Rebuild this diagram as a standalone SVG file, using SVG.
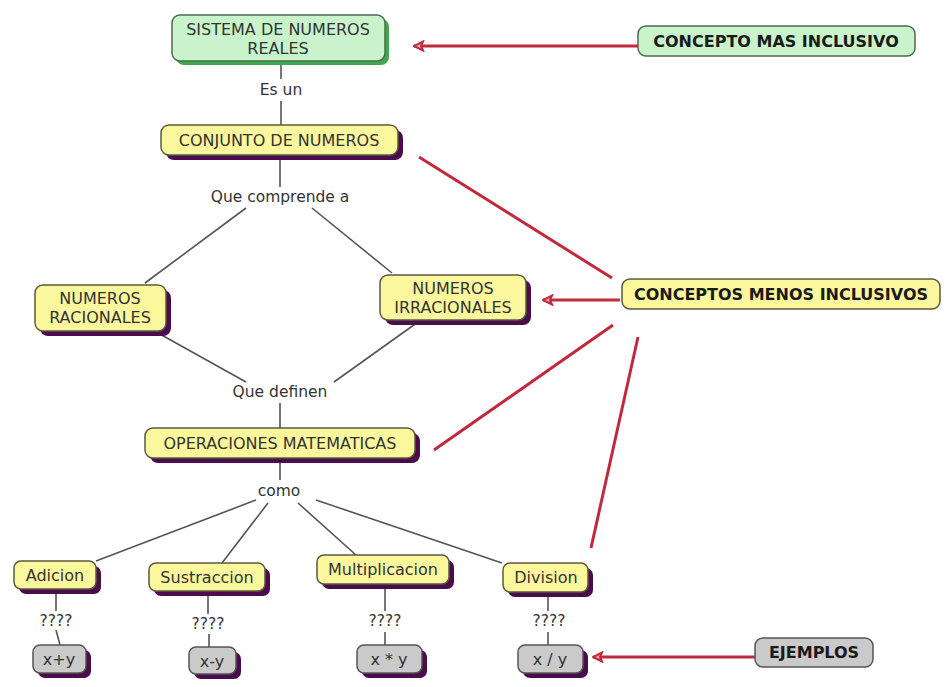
<svg xmlns="http://www.w3.org/2000/svg" width="945" height="687" viewBox="0 0 945 687">
<defs>
<style>
.t{font-family:"DejaVu Sans","Verdana",sans-serif;font-size:16px;fill:#333;text-anchor:middle;dominant-baseline:central}
.b{font-family:"DejaVu Sans","Verdana",sans-serif;font-size:16px;font-weight:bold;fill:#1a1a1a;text-anchor:middle;dominant-baseline:central}
.lbl{font-family:"DejaVu Sans","Verdana",sans-serif;font-size:15.5px;fill:#333;text-anchor:middle;dominant-baseline:central}
.y{fill:#fbf79c;stroke:#5b5a3c;stroke-width:1.5}
.g{fill:#c8f3cb;stroke:#4f6a52;stroke-width:1.5}
.gr{fill:#cacaca;stroke:#555;stroke-width:1.5}
.sh{fill:#4a0c4c}
.shg{fill:#3fa84a}
.c{stroke:#555;stroke-width:1.6;fill:none}
.r{stroke:#c02a3c;stroke-width:3;fill:none}
</style>
<marker id="ah" markerUnits="userSpaceOnUse" markerWidth="14" markerHeight="12" viewBox="0 0 14 12" refX="13" refY="6" orient="auto">
<path d="M13,6 L4,1.5 L6,6 L4,10.5 Z" fill="#f2b0b6" stroke="#c02a3c" stroke-width="2"/>
</marker>
</defs>

<g id="connectors">
<path class="c" d="M281,62 V79 M281,101 V125"/>
<path class="c" d="M280,157 V187"/>
<path class="c" d="M246,208 L145,283 M312,208 L392,273"/>
<path class="c" d="M158,333 L246,382 M418,322 L334,382"/>
<path class="c" d="M280,403 V428"/>
<path class="c" d="M280,462 V480"/>
<path class="c" d="M256,500 L96,561 M268,503 L222,563 M298,503 L356,555 M316,500 L502,563"/>
<path class="c" d="M56,591 V611 M56,630 L60,645"/>
<path class="c" d="M208,593 V614 M209,634 V647"/>
<path class="c" d="M385,586 V611 M385,632 V645"/>
<path class="c" d="M548,594 V611 M548,632 V645"/>
<path class="r" d="M638,46 H414" marker-end="url(#ah)"/>
<path class="r" d="M620,300 H543" marker-end="url(#ah)"/>
<path class="r" d="M755,657 H593" marker-end="url(#ah)"/>
<path class="r" d="M419,157 L612,278 M613,325 L434,450 M638,337 L591,548"/>
</g>

<g id="labels">
<text class="lbl" x="281" y="90">Es un</text>
<text class="lbl" x="280" y="197">Que comprende a</text>
<text class="lbl" x="280" y="392">Que definen</text>
<text class="lbl" x="279" y="491">como</text>
<text class="lbl" x="56" y="621">????</text>
<text class="lbl" x="208" y="624">????</text>
<text class="lbl" x="385" y="621">????</text>
<text class="lbl" x="549" y="621">????</text>
</g>

<g id="sistema">
<rect class="shg" x="176" y="19" width="213" height="46" rx="8"/>
<rect class="g" x="172" y="15" width="213" height="46" rx="8"/>
<text class="t" x="278" y="29">SISTEMA DE NUMEROS</text>
<text class="t" x="278" y="48">REALES</text>
</g>
<g id="conjunto">
<rect class="sh" x="166" y="130" width="237" height="30" rx="8"/>
<rect class="y" x="161" y="125" width="237" height="30" rx="8"/>
<text class="t" x="279" y="140">CONJUNTO DE NUMEROS</text>
</g>
<g id="racionales">
<rect class="sh" x="40" y="290" width="131" height="46" rx="8"/>
<rect class="y" x="35" y="285" width="131" height="46" rx="8"/>
<text class="t" x="100" y="298">NUMEROS</text>
<text class="t" x="100" y="317">RACIONALES</text>
</g>
<g id="irracionales">
<rect class="sh" x="385" y="280" width="146" height="45" rx="8"/>
<rect class="y" x="380" y="275" width="146" height="45" rx="8"/>
<text class="t" x="453" y="288">NUMEROS</text>
<text class="t" x="453" y="307">IRRACIONALES</text>
</g>
<g id="operaciones">
<rect class="sh" x="150" y="433" width="270" height="30" rx="8"/>
<rect class="y" x="145" y="428" width="270" height="30" rx="8"/>
<text class="t" x="280" y="443">OPERACIONES MATEMATICAS</text>
</g>
<g id="adicion">
<rect class="sh" x="19" y="566" width="82" height="28" rx="7"/>
<rect class="y" x="14" y="561" width="82" height="28" rx="7"/>
<text class="t" x="55" y="575">Adicion</text>
</g>
<g id="sustraccion">
<rect class="sh" x="154" y="568" width="116" height="28" rx="7"/>
<rect class="y" x="149" y="563" width="116" height="28" rx="7"/>
<text class="t" x="207" y="577">Sustraccion</text>
</g>
<g id="multiplicacion">
<rect class="sh" x="322" y="560" width="132" height="29" rx="7"/>
<rect class="y" x="317" y="555" width="132" height="29" rx="7"/>
<text class="t" x="383" y="569">Multiplicacion</text>
</g>
<g id="division">
<rect class="sh" x="508" y="568" width="85" height="29" rx="7"/>
<rect class="y" x="503" y="563" width="85" height="29" rx="7"/>
<text class="t" x="546" y="577">Division</text>
</g>
<g id="ej-suma">
<rect class="sh" x="38" y="650" width="53" height="28" rx="7"/>
<rect class="gr" x="33" y="645" width="53" height="28" rx="7"/>
<text class="t" x="59" y="659">x+y</text>
</g>
<g id="ej-resta">
<rect class="sh" x="194" y="652" width="47" height="27" rx="7"/>
<rect class="gr" x="189" y="647" width="47" height="27" rx="7"/>
<text class="t" x="212" y="661">x-y</text>
</g>
<g id="ej-mult">
<rect class="sh" x="362" y="650" width="65" height="28" rx="7"/>
<rect class="gr" x="357" y="645" width="65" height="28" rx="7"/>
<text class="t" x="389" y="659">x * y</text>
</g>
<g id="ej-div">
<rect class="sh" x="523" y="650" width="65" height="28" rx="7"/>
<rect class="gr" x="518" y="645" width="65" height="28" rx="7"/>
<text class="t" x="550" y="659">x / y</text>
</g>
<g id="concepto-mas">
<rect class="g" x="638" y="26" width="277" height="30" rx="8"/>
<text class="b" x="776" y="41">CONCEPTO MAS INCLUSIVO</text>
</g>
<g id="conceptos-menos">
<rect class="y" x="622" y="279" width="318" height="30" rx="8"/>
<text class="b" x="781" y="294">CONCEPTOS MENOS INCLUSIVOS</text>
</g>
<g id="ejemplos">
<rect class="gr" x="755" y="638" width="118" height="29" rx="8"/>
<text class="b" x="814" y="652">EJEMPLOS</text>
</g>
</svg>
